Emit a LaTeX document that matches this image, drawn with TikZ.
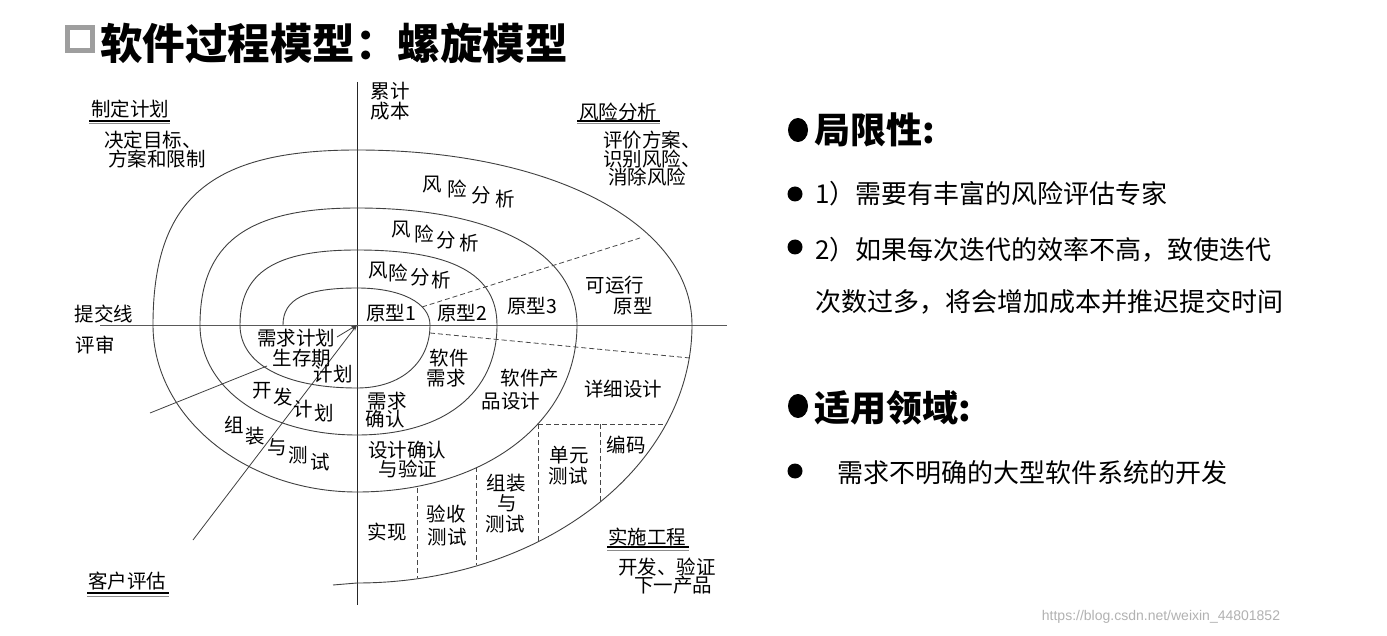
\documentclass[tikz,border=0pt]{standalone}
\usepackage{fontspec}
\newfontfamily\cjk{Noto Sans CJK SC}
\newfontfamily\wmfont{Liberation Sans}
\usetikzlibrary{arrows.meta}
\begin{document}
\begin{tikzpicture}[x=1pt,y=-1pt,
  lab/.style={font=\cjk\fontsize{19.5}{21}\selectfont, inner sep=0pt},
  spiral/.style={draw=black!75, line width=0.9pt},
  dsh/.style={draw=black!72, line width=0.8pt, dash pattern=on 5pt off 3pt},
  axisline/.style={draw=black!85, line width=1pt},
  radial/.style={draw=black!75, line width=0.8pt},
  big/.style={font=\cjk\bfseries\fontsize{36}{40}\selectfont, inner sep=0pt, anchor=west},
  body/.style={font=\cjk\fontsize{26}{28}\selectfont, inner sep=0pt, anchor=west},
  ul1/.style={draw=black, line width=1.3pt},
  ul2/.style={draw=black!45, line width=1pt}]
\useasboundingbox (0,0) rectangle (1387,636);
\fill[white] (0,0) rectangle (1387,636);

% ---------- title ----------
\draw[draw=black!38, line width=5pt] (67.5,27.5) rectangle (92.5,50.5);
\node[font=\cjk\bfseries\fontsize{42.5}{46}\selectfont, inner sep=0pt, anchor=west] (title) at (100,43) {软件过程模型：螺旋模型};

% ---------- axes ----------
\coordinate (O) at (357,325);
\coordinate (vtop) at (357,82);
\coordinate (vbot) at (357,605);
\coordinate (hl) at (100,325);
\coordinate (hr) at (727,325);
\draw[axisline] (vtop) -- (vbot);
\draw[axisline, draw=black!65, line width=0.8pt] (hl) -- (hr);

% ---------- spiral ----------
\draw[spiral]
  (283,325) .. controls (283,299.1) and (305.2,288) .. (357,288)
  .. controls (400.8,288) and (430,302.8) .. (430,325)
  .. controls (430,362.8) and (400.8,388) .. (357,388)
  .. controls (284.5,388) and (240,364) .. (240,325)
  .. controls (240,272.5) and (275.1,250) .. (357,250)
  .. controls (452.2,250) and (497,274) .. (497,325)
  .. controls (497,393.2) and (443.8,435) .. (357,435)
  .. controls (270,435) and (200,391) .. (200,325)
  .. controls (200,243.1) and (247.1,208) .. (357,208)
  .. controls (493.4,208) and (577,252.5) .. (577,325)
  .. controls (577,421.9) and (484.6,492) .. (357,492)
  .. controls (244.8,492) and (153,416.9) .. (153,325)
  .. controls (153,199) and (210.1,150) .. (357,150)
  .. controls (551.3,150) and (692,223.5) .. (692,325)
  .. controls (692,466.9) and (541.3,583) .. (357,583)
  -- (333,585);

% ---------- dashed lines ----------
\coordinate (du1) at (422,307);
\coordinate (du2) at (640,238);
\draw[dsh] (du1) -- (du2);
\coordinate (dl1) at (430,333);
\coordinate (dl2) at (690,358);
\draw[dsh] (dl1) -- (dl2);
\coordinate (b1) at (538,424);
\coordinate (b2) at (666,424);
\draw[dsh] (b1) -- (b2);
\draw[dsh] (b1) -- (538,541);
\draw[dsh] (600,424) -- (600,502);
\draw[dsh] (476,467) -- (476,565);
\draw[dsh] (417,488) -- (417,578);

% ---------- radial lines ----------
\coordinate (r1) at (193,540);
\coordinate (r2) at (337,337);
\coordinate (r3a) at (267,366);
\coordinate (r3b) at (150,413);
\draw[radial, -{Stealth[length=6pt,width=4pt]}] (r1) -- (O);
\draw[radial, -{Stealth[length=6pt,width=4pt]}] (r2) -- (O);
\draw[radial] (r3a) -- (r3b);

% ---------- diagram labels ----------
\node[lab] (zd) at (130,109) {制定计划};
\draw[ul1] (89,121) -- (170,121);
\draw[ul2] (89,124) -- (170,124);
\node[lab] (zd1) at (153,140) {决定目标、};
\node[lab] (zd2) at (157,159) {方案和限制};

\node[lab] (lj1) at (390,91) {累计};
\node[lab] (lj2) at (390,111) {成本};

\node[lab] (fx) at (618,112) {风险分析};
\draw[ul1] (577,121) -- (660,121);
\draw[ul2] (577,124) -- (660,124);
\node[lab] (fx1) at (652,140) {评价方案、};
\node[lab] (fx2) at (652,159) {识别风险、};
\node[lab] (fx3) at (647,177) {消除风险};

% stepped 风险分析 (outer)
\node[lab] (a1) at (432,185) {风};
\node[lab] (a2) at (457,189) {险};
\node[lab] (a3) at (481,195) {分};
\node[lab] (a4) at (505,199) {析};
% middle
\node[lab] (b1n) at (401,230) {风};
\node[lab] (b2n) at (424,234) {险};
\node[lab] (b3n) at (446,240) {分};
\node[lab] (b4n) at (469,243) {析};
% inner
\node[lab] (c1) at (378,271) {风};
\node[lab] (c2) at (398,273) {险};
\node[lab] (c3) at (420,277) {分};
\node[lab] (c4) at (441,280) {析};

\node[lab] (p1) at (391,313) {原型1};
\node[lab] (p2) at (462,313) {原型2};
\node[lab] (p3) at (532,306) {原型3};
\node[lab] (p4a) at (615,285) {可运行};
\node[lab] (p4b) at (633,306) {原型};

\node[lab] (tj) at (104,314) {提交线};
\node[lab] (ps) at (95,345) {评审};

\node[lab] (xq1) at (296,338) {需求计划};
\node[lab] (xq2) at (302,358) {生存期};
\node[lab] (xq3) at (333,374) {计划};

\node[lab] (k1) at (262,391) {开};
\node[lab] (k2) at (283,397) {发};
\node[lab] (k3) at (303,409) {计};
\node[lab] (k4) at (324,413) {划};

\node[lab] (z1) at (234,425) {组};
\node[lab] (z2) at (255,436) {装};
\node[lab] (z3) at (277,447) {与};
\node[lab] (z4) at (298,455) {测};
\node[lab] (z5) at (320,462) {试};

\node[lab] (qr1) at (387,401) {需求};
\node[lab] (qr2) at (385,419) {确认};
\node[lab] (rx1) at (449,358) {软件};
\node[lab] (rx2) at (446,378) {需求};
\node[lab] (cp1) at (530,378) {软件产};
\node[lab] (cp2) at (511,401) {品设计};
\node[lab] (xx) at (623,389) {详细设计};
\node[lab] (sj1) at (407,450) {设计确认};
\node[lab] (sj2) at (408,469) {与验证};
\node[lab] (sx) at (387,532) {实现};
\node[lab] (ys1) at (446,514) {验收};
\node[lab] (ys2) at (447,537) {测试};
\node[lab] (zz1) at (506,483) {组装};
\node[lab] (zz2) at (507,503) {与};
\node[lab] (zz3) at (505,524) {测试};
\node[lab] (dy1) at (569,455) {单元};
\node[lab] (dy2) at (568,476) {测试};
\node[lab] (bm) at (626,445) {编码};

\node[lab] (ss) at (647,537) {实施工程};
\draw[ul1] (607,547) -- (689,547);
\draw[ul2] (607,550) -- (689,550);
\node[lab] (ss1) at (667,567) {开发、验证};
\node[lab] (ss2) at (673,585) {下一产品};

\node[lab] (kh) at (127,581) {客户评估};
\draw[ul1] (87,593) -- (169,593);
\draw[ul2] (87,596) -- (169,596);

% ---------- right side text ----------
\fill (798,130) ellipse (10 and 12);
\node[big] (h1) at (814,130) {局限性:};
\fill (795,194) circle (7.5);
\node[body] (l1) at (815,194) {1）需要有丰富的风险评估专家};
\fill (795,247) circle (7.5);
\node[body] (l2) at (815,250) {2）如果每次迭代的效率不高，致使迭代};
\node[body] (l3) at (815,302) {次数过多，将会增加成本并推迟提交时间};
\fill (798,406) ellipse (10 and 12);
\node[big] (h2) at (814,408) {适用领域:};
\fill (795,471) circle (7.5);
\node[body] (l4) at (837,473) {需求不明确的大型软件系统的开发};

\node[font=\wmfont\fontsize{14}{16}\selectfont, text=black!30, inner sep=0pt] (wm) at (1161,617) {https://blog.csdn.net/weixin\_44801852};
\end{tikzpicture}
\end{document}
